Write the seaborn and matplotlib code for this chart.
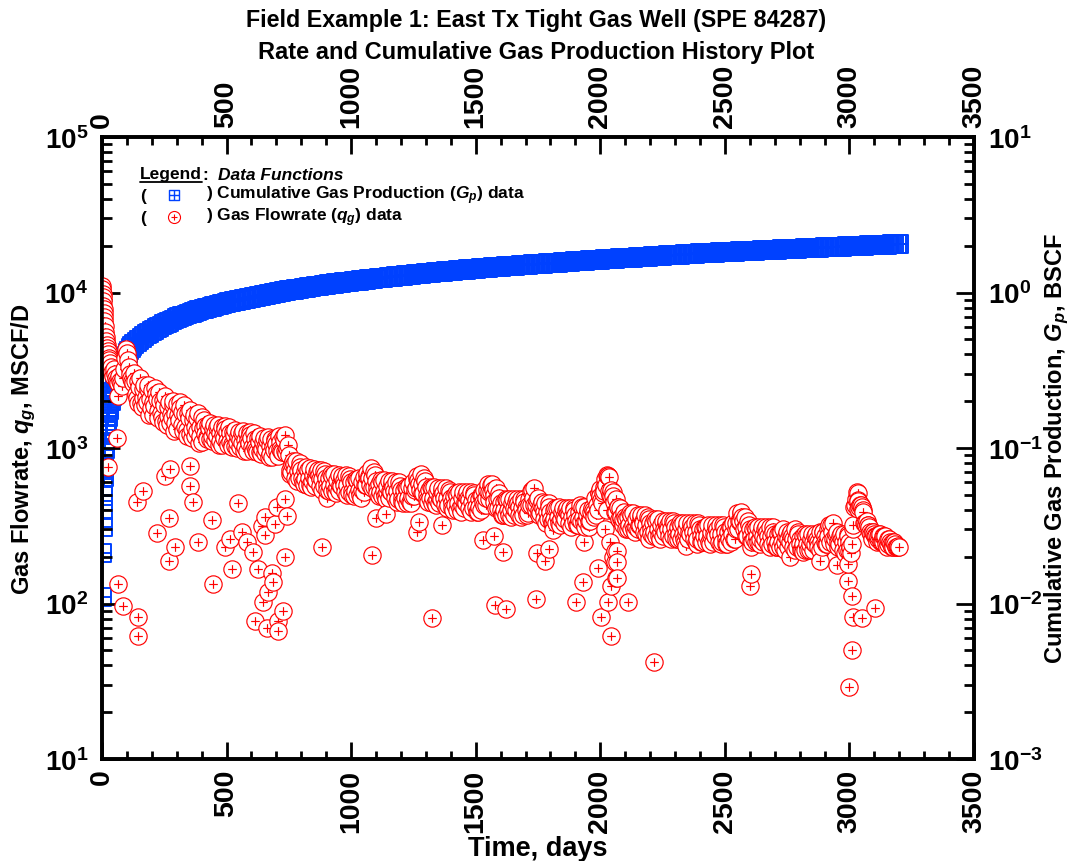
import numpy as np
import pandas as pd
import matplotlib
matplotlib.use("Agg")
import matplotlib.pyplot as plt
import seaborn as sns
from matplotlib.path import Path
from matplotlib import font_manager
from matplotlib.ticker import MultipleLocator, LogLocator, FuncFormatter, NullFormatter, FixedLocator

# ---------------- data ----------------
# Gas rate, MSCF/D : early (irregular days)
early_days = [1, 2, 3, 4, 5, 6, 7, 8, 9, 10, 12, 14, 16, 18, 20, 22, 24, 26, 28, 30,
              33, 36, 40, 44, 48, 52, 56, 60, 64, 68, 72, 76, 80, 84, 88, 92, 96, 100,
              104, 108, 112, 116, 120, 125]
early_rate = [11000, 10500, 9800, 9300, 8800, 8200, 7800, 7400, 7000, 6600, 6100, 5600,
              5200, 4900, 4600, 4400, 4200, 4000, 3800, 3700, 3500, 3300, 3100, 2900,
              3200, 3000, 2800, 2700, 2600, 2900, 2700, 2600, 2500, 2800, 3200, 3800,
              4300, 4100, 3700, 3300, 3000, 2800, 2700, 2600]

# Gas rate, MSCF/D : main trend, every 10 days starting at day 130
band_start = 130
band_rate = [
    3050, 2090, 2480, 1830, 2550, 1980, 1620, 2360,
    1860, 2070, 2290, 1580, 1890, 1410, 1980, 1550, 1290, 1920,
    1520, 1700, 1880, 1300, 1550, 1160, 1630, 1290, 1080, 1590,
    1520, 1180, 1340, 1110, 1400, 1190, 1050, 1370, 1160, 1260,
    1360, 1060, 1210, 1000, 1270, 1080, 960, 1250, 1070, 1160,
    1240, 970, 1100, 910, 1160, 990, 880, 1140, 970, 1060,
    1190, 960, 1120, 930, 900,
    700, 790, 820, 640, 720, 590, 750, 640, 560, 730,
    620, 670, 720, 570, 640, 530, 680, 580, 510, 670,
    570, 620, 670, 520, 600,
    490, 630, 540, 480, 650, 580, 660, 740, 560, 610,
    490, 620, 530, 470, 610, 520, 560, 600, 470, 540,
    440, 560, 480, 440, 600, 550, 620, 680, 510, 560,
    450, 560, 480, 430, 550, 470, 510, 550, 430, 480,
    400, 510, 440, 390, 520, 440, 480, 520, 410, 460,
    390, 500, 450, 430, 590, 520, 540, 550, 410, 440,
    370, 470, 400, 360, 470, 400, 440, 470, 370, 420,
    380, 530, 480, 400, 480, 380, 410, 440, 350, 390,
    330, 410, 360, 320, 410, 350, 380, 410, 330, 370,
    320, 430, 360, 310, 400, 340, 400, 480, 400, 490,
    510, 630, 660, 500, 520, 390, 420, 410, 320, 360,
    300, 380, 320, 290, 370, 320, 340, 370, 290, 330,
    270, 350, 300, 260, 340, 290, 320, 340, 270, 310,
    260, 330, 280, 250, 330, 280, 310, 330, 260, 300,
    250, 310, 270, 240, 320, 270, 300, 320, 250, 290,
    240, 310, 280, 260, 380, 340, 360, 360, 270, 300,
    250, 310, 270, 240, 310, 260, 290, 310, 240, 280,
    230, 290, 250, 220, 290, 250, 270, 300, 230, 260,
    220, 280, 240, 220, 280, 240, 260, 290, 230, 270,
    240, 320, 290, 240, 290, 240, 260, 280, 220, 250,
    240, 420, 520, 420, 420, 330, 340, 310, 260, 280,
    250, 280, 250, 270, 230, 260, 230, 250, 230, 230,
]

# Gas rate, MSCF/D : main trend, every 10 days starting at day 133
band3_start = 133
band3_rate = [
    2690, 1940, 2820, 2100, 1880, 2400, 2060, 1630,
    2440, 1720, 2020, 1460, 2150, 1610, 1450, 1880, 1650, 1330,
    1990, 1400, 1650, 1200, 1760, 1320, 1200, 1560, 1370, 1100,
    1390, 1140, 1450, 1200, 1130, 1360, 1240, 1050, 1380, 1110,
    1250, 1020, 1310, 1090, 1020, 1240, 1130, 960, 1260, 1020,
    1140, 940, 1200, 990, 930, 1130, 1030, 880, 1150, 950,
    1100, 940, 1220, 1000,
    680, 790, 720, 610, 800, 640, 710, 580, 740, 610,
    570, 700, 630, 540, 710, 580, 640, 530, 680, 560,
    530, 640, 580, 500, 660, 530,
    600, 500, 640, 540, 520, 660, 640, 550, 700, 550,
    590, 490, 620, 520, 480, 590, 530, 450, 600, 480,
    540, 440, 570, 490, 490, 630, 590, 510, 640, 500,
    540, 440, 560, 470, 440, 530, 480, 410, 540, 440,
    490, 400, 520, 430, 410, 500, 460, 390, 510, 420,
    470, 400, 540, 480, 470, 580, 500, 410, 510, 400,
    450, 370, 470, 400, 370, 450, 420, 360, 470, 400,
    470, 430, 550, 430, 370, 430, 390, 330, 440, 350,
    400, 330, 420, 350, 330, 400, 370, 310, 410, 340,
    390, 340, 420, 340, 310, 390, 390, 370, 510, 460,
    560, 580, 650, 490, 490, 390, 420, 350, 350, 350,
    360, 300, 380, 310, 300, 360, 330, 280, 360, 300,
    330, 270, 350, 290, 270, 330, 300, 260, 340, 280,
    310, 260, 330, 280, 260, 320, 290, 250, 330, 270,
    300, 250, 320, 270, 250, 310, 280, 240, 320, 260,
    290, 250, 330, 300, 300, 380, 340, 270, 340, 270,
    300, 250, 310, 260, 250, 300, 270, 230, 310, 250,
    280, 230, 300, 250, 230, 280, 260, 220, 290, 240,
    270, 220, 280, 240, 220, 270, 250, 220, 290, 250,
    300, 250, 330, 260, 230, 270, 250, 210, 280, 230,
    300, 430, 510, 430, 400, 330, 320, 290, 290, 270,
    260, 280, 250, 270, 240, 250, 240, 240, 230,
]

# Gas rate, MSCF/D : main trend, every 10 days starting at day 135
band2_start = 135
band2_rate = [
    2220, 2690, 1960, 2400, 2120, 2540, 1800, 1980,
    2230, 1560, 1670, 2040, 1500, 1840, 1650, 2010, 1450, 1620,
    1820, 1280, 1370, 1670, 1230, 1520, 1370, 1670, 1200, 1340,
    1230, 1410, 1140, 1330, 1240, 1410, 1110, 1220, 1330, 1040,
    1100, 1270, 1030, 1200, 1120, 1280, 1010, 1120, 1220, 950,
    1010, 1160, 940, 1100, 1020, 1170, 920, 1020, 1110, 890,
    980, 1170, 950, 1040,
    720, 820, 640, 710, 760, 600, 630, 720, 580, 670,
    630, 720, 570, 630, 680, 540, 570, 660, 530, 620,
    580, 660, 520, 580, 630, 500,
    530, 620, 500, 600, 580, 690, 580, 640, 670, 510,
    520, 600, 490, 570, 530, 610, 480, 530, 570, 450,
    480, 550, 450, 550, 540, 660, 540, 590, 610, 460,
    480, 550, 440, 520, 480, 550, 430, 480, 520, 410,
    430, 500, 410, 480, 450, 520, 410, 450, 500, 390,
    420, 500, 430, 540, 520, 590, 450, 470, 480, 370,
    400, 460, 370, 440, 410, 470, 370, 410, 450, 370,
    430, 540, 430, 460, 400, 450, 350, 390, 420, 330,
    350, 410, 330, 390, 360, 410, 330, 360, 400, 320,
    350, 420, 330, 370, 340, 410, 360, 430, 510, 440,
    530, 670, 530, 540, 450, 470, 350, 360, 390, 300,
    320, 370, 300, 350, 320, 370, 290, 320, 350, 280,
    290, 340, 270, 320, 300, 340, 270, 300, 330, 260,
    280, 320, 260, 300, 290, 330, 260, 290, 320, 250,
    270, 310, 250, 290, 280, 320, 250, 280, 310, 240,
    260, 310, 260, 330, 340, 390, 300, 310, 320, 250,
    260, 300, 250, 290, 270, 310, 240, 270, 290, 230,
    250, 290, 230, 270, 260, 290, 230, 260, 280, 220,
    240, 270, 220, 260, 250, 280, 230, 250, 290, 240,
    270, 320, 260, 280, 250, 280, 220, 250, 270, 210,
    320, 470, 460, 430, 390, 320, 320, 280, 290, 270,
    270, 250, 270, 240, 260, 240, 250, 230, 235,
]

# Gas rate, MSCF/D : scattered low / high readings
outlier_days = [24, 60, 64, 64, 84, 141, 145, 145, 165, 221, 253, 269, 269, 273, 293,
                353, 353, 365, 385, 441, 446, 494, 514, 522, 546, 562, 582, 606, 614,
                626, 642, 646, 654, 654, 662, 666, 683, 686, 694, 703, 706, 706, 727,
                735, 735, 743, 883, 903, 1084, 1100, 1140, 1265, 1273, 1325, 1365, 1529,
                1574, 1578, 1610, 1622, 1742, 1746, 1778, 1794, 1810, 1903, 1931, 1935,
                1991, 1999, 2003, 2020, 2025, 2031, 2031, 2040, 2043, 2045, 2050, 2059,
                2059, 2063, 2067, 2067, 2067, 2112, 2196, 2216, 2345, 2389, 2601, 2605,
                2605, 2762, 2815, 2883, 2950, 2995, 2995, 2999, 2999, 3011, 3011, 3015,
                3035, 3035, 3051, 3103, 3175]
outlier_rate = [750, 1160, 2150, 133, 96, 450, 82, 62, 530, 285, 660, 355, 188, 730, 230,
                765, 570, 450, 250, 345, 133, 230, 260, 167, 440, 290, 250, 215, 77,
                167, 315, 103, 275, 360, 70, 118, 158, 137, 325, 415, 77, 67, 90,
                200, 470, 365, 230, 475, 205, 355, 375, 290, 335, 81, 320, 257,
                272, 98, 215, 92, 107, 210, 188, 225, 295, 102, 137, 248,
                170, 545, 82, 300, 400, 660, 102, 250, 62, 130, 200, 185,
                217, 145, 217, 185, 145, 102, 260, 42, 235, 240, 130, 155,
                230, 200, 215, 188, 178, 140, 180, 217, 29, 112, 50, 82,
                455, 405, 81, 93, 230]

# Cumulative gas production, BSCF : early (irregular days)
cum_early_days = [1, 2, 3, 4, 5, 6, 7, 8, 9, 10, 12, 14, 16, 18, 20, 22, 24, 26, 28, 30,
                  35, 40, 45, 50, 55, 60, 65, 70, 75, 80, 85, 90, 95, 100, 105, 110, 115, 120]
cum_early = [0.011, 0.021, 0.031, 0.040, 0.049, 0.057, 0.065, 0.072, 0.079, 0.086,
             0.098, 0.110, 0.121, 0.131, 0.141, 0.150, 0.159, 0.167, 0.175, 0.183,
             0.200, 0.216, 0.231, 0.245, 0.259, 0.273, 0.287, 0.300, 0.313, 0.326,
             0.339, 0.353, 0.371, 0.391, 0.409, 0.424, 0.438, 0.451]
# Cumulative gas production, BSCF : every 10 days starting at day 130
cum_start = 130
cum_band = [
    0.466, 0.481, 0.496, 0.510, 0.524, 0.538, 0.551, 0.564,
    0.577, 0.590, 0.602, 0.614, 0.626, 0.638, 0.649, 0.660, 0.671, 0.682,
    0.692, 0.702, 0.712, 0.722, 0.732, 0.741, 0.750, 0.759, 0.768, 0.777,
    0.785, 0.793, 0.801, 0.809, 0.817, 0.825, 0.833, 0.841, 0.849, 0.857,
    0.864, 0.871, 0.878, 0.885, 0.892, 0.899, 0.906, 0.913, 0.920, 0.927,
    0.934, 0.941, 0.948, 0.955, 0.962, 0.969, 0.976, 0.983, 0.990, 0.997,
    1.004, 1.011, 1.018, 1.025, 1.032, 1.038, 1.044, 1.050, 1.056, 1.062,
    1.068, 1.074, 1.080, 1.086, 1.092, 1.098, 1.104, 1.110, 1.116, 1.122,
    1.128, 1.133, 1.139, 1.144, 1.150, 1.155, 1.161, 1.166, 1.172, 1.177,
    1.182, 1.187, 1.193, 1.198, 1.203, 1.208, 1.214, 1.219, 1.224, 1.229,
    1.234, 1.239, 1.244, 1.249, 1.254, 1.259, 1.264, 1.269, 1.274, 1.279,
    1.284, 1.289, 1.294, 1.299, 1.304, 1.309, 1.314, 1.319, 1.324, 1.329,
    1.334, 1.339, 1.344, 1.348, 1.353, 1.358, 1.362, 1.367, 1.372, 1.376,
    1.381, 1.385, 1.390, 1.394, 1.399, 1.403, 1.408, 1.412, 1.417, 1.421,
    1.426, 1.430, 1.434, 1.439, 1.443, 1.447, 1.452, 1.456, 1.460, 1.465,
    1.469, 1.473, 1.477, 1.481, 1.485, 1.489, 1.493, 1.497, 1.501, 1.505,
    1.509, 1.513, 1.517, 1.521, 1.525, 1.529, 1.533, 1.537, 1.541, 1.545,
    1.549, 1.553, 1.557, 1.561, 1.565, 1.569, 1.573, 1.577, 1.581, 1.585,
    1.589, 1.593, 1.597, 1.601, 1.605, 1.609, 1.613, 1.617, 1.621, 1.625,
    1.629, 1.633, 1.637, 1.641, 1.645, 1.649, 1.653, 1.657, 1.661, 1.665,
    1.669, 1.673, 1.677, 1.681, 1.685, 1.689, 1.693, 1.697, 1.701, 1.705,
    1.709, 1.713, 1.717, 1.721, 1.725, 1.729, 1.733, 1.737, 1.741, 1.745,
    1.749, 1.753, 1.757, 1.761, 1.765, 1.769, 1.773, 1.777, 1.781, 1.785,
    1.788, 1.791, 1.795, 1.798, 1.801, 1.805, 1.808, 1.811, 1.815, 1.818,
    1.821, 1.825, 1.828, 1.831, 1.835, 1.838, 1.841, 1.845, 1.848, 1.851,
    1.854, 1.858, 1.861, 1.864, 1.868, 1.871, 1.874, 1.878, 1.881, 1.884,
    1.887, 1.891, 1.894, 1.897, 1.901, 1.904, 1.907, 1.911, 1.914, 1.917,
    1.920, 1.924, 1.927, 1.930, 1.934, 1.937, 1.940, 1.944, 1.947, 1.950,
    1.953, 1.957, 1.960, 1.963, 1.967, 1.970, 1.973, 1.977, 1.980, 1.983,
    1.986, 1.990, 1.993, 1.996, 2.000, 2.003, 2.006, 2.010, 2.013, 2.016,
    2.019, 2.023, 2.026, 2.029, 2.033, 2.036, 2.039, 2.043, 2.046, 2.049,
]

x_ticks = [0, 500, 1000, 1500, 2000, 2500, 3000, 3500]

# ---------------- tables ----------------
def day_grid(start, values):
    return list(range(start, start + 10 * len(values), 10))

rate_df = pd.DataFrame({
    "t": early_days + day_grid(band_start, band_rate) + day_grid(band3_start, band3_rate)
         + day_grid(band2_start, band2_rate) + outlier_days,
    "q": early_rate + band_rate + band3_rate + band2_rate + outlier_rate,
}).sort_values("t", kind="stable")
cum_df = pd.DataFrame({"t": cum_early_days + day_grid(cum_start, cum_band),
                       "gp": cum_early + cum_band})

# ---------------- style ----------------
sns.set_theme(style="ticks")
names = {f.name for f in font_manager.fontManager.ttflist}
NARROW = "Liberation Sans Narrow" if "Liberation Sans Narrow" in names else "Liberation Sans"
plt.rcParams["font.family"] = ["Liberation Sans", "DejaVu Sans"]
plt.rcParams["font.weight"] = "bold"
plt.rcParams["mathtext.fontset"] = "custom"
plt.rcParams["mathtext.rm"] = "Liberation Sans:bold"
plt.rcParams["mathtext.bf"] = "Liberation Sans:bold"
plt.rcParams["mathtext.it"] = "Liberation Sans:bold:italic"
plt.rcParams["mathtext.default"] = "rm"
for k in ["text.color", "axes.labelcolor", "xtick.color", "ytick.color", "axes.edgecolor"]:
    plt.rcParams[k] = "black"

RED = "#ff0000"
BLUE = "#0041ff"

circ = Path.unit_circle()
plus_c = Path([(-0.5, 0), (0.5, 0), (0, -0.5), (0, 0.5)],
              [Path.MOVETO, Path.LINETO, Path.MOVETO, Path.LINETO])
circle_plus = Path.make_compound_path(circ, plus_c)
sq = Path([(-1, -1), (1, -1), (1, 1), (-1, 1), (-1, -1)],
          [Path.MOVETO, Path.LINETO, Path.LINETO, Path.LINETO, Path.CLOSEPOLY])
plus_s = Path([(-1, 0), (1, 0), (0, -1), (0, 1)],
              [Path.MOVETO, Path.LINETO, Path.MOVETO, Path.LINETO])
square_plus = Path.make_compound_path(sq, plus_s)

fig = plt.figure(figsize=(10.72, 8.62), dpi=100)
ax = fig.add_axes([102 / 1072, 1 - 760 / 862, 872 / 1072, 622 / 862])
ax2 = ax.twinx()
ax2.set_zorder(1)
ax.set_zorder(2)
ax.patch.set_visible(False)

# cumulative (right axis)
sns.scatterplot(data=cum_df, x="t", y="gp", ax=ax2, marker=square_plus, s=165,
                color="none", edgecolor=BLUE, linewidth=1.4, legend=False)
# rate (left axis)
sns.scatterplot(data=rate_df, x="t", y="q", ax=ax, marker=circle_plus, s=155,
                color="white", edgecolor=RED, linewidth=0.85, legend=False)

ax.set_yscale("log")
ax2.set_yscale("log")
ax.set_xlim(0, 3500)
ax.set_ylim(10, 1e5)
ax2.set_ylim(1e-3, 10)

def pow10(v, pos):
    e = int(round(np.log10(v)))
    return r"$10^{%d}$" % e

for a in (ax, ax2):
    a.yaxis.set_major_locator(LogLocator(base=10, numticks=10))
    a.yaxis.set_minor_locator(LogLocator(base=10, subs=np.arange(2, 10), numticks=10))
    a.yaxis.set_major_formatter(FuncFormatter(pow10))
    a.yaxis.set_minor_formatter(NullFormatter())

ax.xaxis.set_major_locator(FixedLocator(x_ticks))
ax.xaxis.set_minor_locator(MultipleLocator(100))
ax.tick_params(axis="x", which="both", direction="in", top=True, bottom=True,
               labeltop=True, labelbottom=True, labelrotation=90, width=2)
ax.tick_params(axis="x", which="major", length=12, labelsize=20.5, pad=7)
ax.tick_params(axis="x", which="minor", length=6)
ax.tick_params(axis="y", which="both", direction="in", left=True, right=False,
               labelleft=True, labelright=False, width=2)
ax.tick_params(axis="y", which="major", length=13, labelsize=20, pad=10)
ax.tick_params(axis="y", which="minor", length=7)
ax2.tick_params(axis="y", which="both", direction="in", right=True, left=False,
                labelright=True, labelleft=False, width=2)
ax2.tick_params(axis="y", which="major", length=13, labelsize=20, pad=10)
ax2.tick_params(axis="y", which="minor", length=7)

for a in (ax, ax2):
    for s in a.spines.values():
        s.set_linewidth(2.6)
        s.set_color("black")

ax.set_xlabel("Time, days", fontsize=19.5, fontweight="bold", family=NARROW)
ax.xaxis.set_label_coords(0.5, -0.1215)
ax.set_ylabel(r"Gas Flowrate, $\mathit{q}_{\mathit{g}}$, MSCF/D", fontsize=17, fontweight="bold")
ax.yaxis.set_label_coords(-0.073, 0.5)
ax2.set_ylabel(r"Cumulative Gas Production, $\mathit{G}_{\mathit{p}}$, BSCF", fontsize=17,
               fontweight="bold", rotation=90)
ax2.yaxis.set_label_coords(1.079, 0.5)

t1 = fig.text(0.5, 1 - 21 / 862, "Field Example 1: East Tx Tight Gas Well (SPE 84287)",
              ha="center", va="center", fontsize=18, fontweight="bold", family=NARROW)
t2 = fig.text(0.5, 1 - 52 / 862, "Rate and Cumulative Gas Production History Plot",
              ha="center", va="center", fontsize=18, fontweight="bold", family=NARROW)

# legend block
lx = (140 - 102) / 872
fs = 12.5
def ay(py):
    return (760 - py) / 622
t_leg = ax.text(lx, ay(175), "Legend", transform=ax.transAxes, fontsize=fs,
                fontweight="bold", va="center", ha="left")
ax.text((218 - 102) / 872, ay(175), "Data Functions", transform=ax.transAxes, fontsize=fs,
        fontweight="bold", style="italic", va="center", ha="left")
for py, col, mk, s, lw, label in [
    (196, BLUE, square_plus, 55, 1.0, r") Cumulative Gas Production ($\mathit{G}_{\mathit{p}}$) data"),
    (218, RED, circle_plus, 75, 0.8, r") Gas Flowrate ($\mathit{q}_{\mathit{g}}$) data"),
]:
    ax.text(lx, ay(py), "(", transform=ax.transAxes, fontsize=fs, fontweight="bold",
            va="center", ha="left")
    ax.scatter([(174 - 102) / 872], [ay(py)], transform=ax.transAxes, marker=mk, s=s,
               facecolor="white", edgecolor=col, linewidth=lw, zorder=5, clip_on=False)
    ax.text((206 - 102) / 872, ay(py), label, transform=ax.transAxes, fontsize=fs,
            fontweight="bold", va="center", ha="left")

# fit title widths to the reference
fig.canvas.draw()
r = fig.canvas.get_renderer()
for txt, target in [(t1, 580), (t2, 554)]:
    w = txt.get_window_extent(r).width
    txt.set_fontsize(txt.get_fontsize() * target / w)

fig.canvas.draw()
bb = t_leg.get_window_extent(r).transformed(ax.transAxes.inverted())
ax.text(bb.x1, ay(175), ":", transform=ax.transAxes, fontsize=fs,
        fontweight="bold", va="center", ha="left")
ax.plot([bb.x0, bb.x1], [bb.y0 - 0.001, bb.y0 - 0.001], transform=ax.transAxes,
        color="black", lw=1.3, clip_on=False)

fig.savefig("out.png", dpi=100, facecolor="white")
